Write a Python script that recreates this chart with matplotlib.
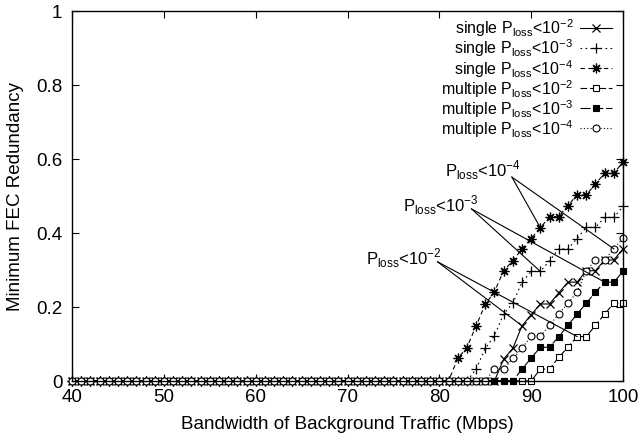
import matplotlib
matplotlib.use("Agg")
import matplotlib.pyplot as plt
import numpy as np

plt.rcParams['font.family'] = ['Liberation Sans', 'DejaVu Sans']
plt.rcParams['mathtext.fontset'] = 'custom'
plt.rcParams['mathtext.rm'] = 'Liberation Sans'

# background traffic (Mbps)
bw = np.arange(40, 101)

# non-zero tails; everything before is 0
single_2 = {87: 0.059, 88: 0.088, 89: 0.149, 90: 0.179, 91: 0.208, 92: 0.208, 93: 0.238,
            94: 0.267, 95: 0.267, 96: 0.298, 97: 0.298, 98: 0.327, 99: 0.327, 100: 0.357}
single_3 = {84: 0.032, 85: 0.088, 86: 0.122, 87: 0.181, 88: 0.210, 89: 0.267, 90: 0.296,
            91: 0.296, 92: 0.325, 93: 0.357, 94: 0.357, 95: 0.385, 96: 0.415, 97: 0.415,
            98: 0.442, 99: 0.442, 100: 0.472}
single_4 = {82: 0.061, 83: 0.090, 84: 0.149, 85: 0.207, 86: 0.241, 87: 0.298, 88: 0.325,
            89: 0.357, 90: 0.385, 91: 0.414, 92: 0.444, 93: 0.444, 94: 0.474, 95: 0.503,
            96: 0.503, 97: 0.532, 98: 0.562, 99: 0.562, 100: 0.591}
multi_2 = {91: 0.032, 92: 0.032, 93: 0.064, 94: 0.091, 95: 0.120, 96: 0.120, 97: 0.150,
           98: 0.181, 99: 0.210, 100: 0.210}
multi_3 = {89: 0.032, 90: 0.062, 91: 0.091, 92: 0.091, 93: 0.120, 94: 0.150, 95: 0.181,
           96: 0.210, 97: 0.240, 98: 0.267, 99: 0.267, 100: 0.296}
multi_4 = {86: 0.032, 87: 0.032, 88: 0.061, 89: 0.088, 90: 0.121, 91: 0.121, 92: 0.150,
           93: 0.181, 94: 0.210, 95: 0.240, 96: 0.298, 97: 0.327, 98: 0.327, 99: 0.357,
           100: 0.386}


def full(tail):
    return np.array([tail.get(b, 0.0) for b in bw])


labels = [r'single P$_{\rm loss}$<10$^{-2}$', r'single P$_{\rm loss}$<10$^{-3}$',
          r'single P$_{\rm loss}$<10$^{-4}$', r'multiple P$_{\rm loss}$<10$^{-2}$',
          r'multiple P$_{\rm loss}$<10$^{-3}$', r'multiple P$_{\rm loss}$<10$^{-4}$']
series = [full(single_2), full(single_3), full(single_4),
          full(multi_2), full(multi_3), full(multi_4)]

styles = [
    dict(marker='x', ms=6, mew=0.9, ls='-'),
    dict(marker='+', ms=7, mew=0.9, dashes=(1.5, 3)),
    dict(marker=(8, 2, 0), ms=7, mew=0.9, dashes=(4, 3)),
    dict(marker='s', ms=5, mew=0.8, mfc='white', dashes=(6, 2.5)),
    dict(marker='s', ms=5, mew=0.8, mfc='black', dashes=(9, 2.5)),
    dict(marker='o', ms=5, mew=0.8, mfc='white', dashes=(1, 2)),
]

fig = plt.figure(figsize=(6.38, 4.39), dpi=100)
ax = fig.add_axes([0.113, 0.13, 0.8635, 0.8427])

for y, lab, st in zip(series, labels, styles):
    ax.plot(bw, y, color='black', lw=0.8, mec='black', label=lab, clip_on=False, **st)

# annotations: label -> single curve point, multiple curve point
notes = [
    (r'P$_{\rm loss}$<10$^{-4}$', (84.7, 0.573), (87.9, 0.551), (2, 91), (5, 99)),
    (r'P$_{\rm loss}$<10$^{-3}$', (80.1, 0.478), (83.5, 0.465), (1, 91), (4, 98)),
    (r'P$_{\rm loss}$<10$^{-2}$', (76.1, 0.335), (79.8, 0.322), (0, 89), (3, 95)),
]
for txt, tpos, start, a, b in notes:
    ax.text(tpos[0], tpos[1], txt, ha='center', va='center', fontsize=12)
    for idx, xb in (a, b):
        ax.plot([start[0], xb], [start[1], series[idx][xb - 40]], color='black', lw=0.8)

ax.set_xlim(40, 100)
ax.set_ylim(0, 1)
ax.set_xticks(np.arange(40, 101, 10))
ax.set_yticks([0, 0.2, 0.4, 0.6, 0.8, 1])
ax.set_yticklabels(['0', '0.2', '0.4', '0.6', '0.8', '1'])
ax.tick_params(direction='in', top=True, right=True, labelsize=13.5, length=5)
ax.tick_params(axis='x', pad=5)
ax.tick_params(axis='y', pad=7)
ax.set_xlabel('Bandwidth of Background Traffic (Mbps)', fontsize=13.5, labelpad=7)
ax.set_ylabel('Minimum FEC Redundancy', fontsize=13.5, labelpad=9)
for s in ax.spines.values():
    s.set_linewidth(1.0)

ax.legend(loc='upper right', frameon=False, markerfirst=False, fontsize=11.5,
          handlelength=2.0, handletextpad=0.4, labelspacing=-0.1,
          bbox_to_anchor=(1.0, 1.015), borderaxespad=0.3)

fig.savefig('out.png', dpi=100)
